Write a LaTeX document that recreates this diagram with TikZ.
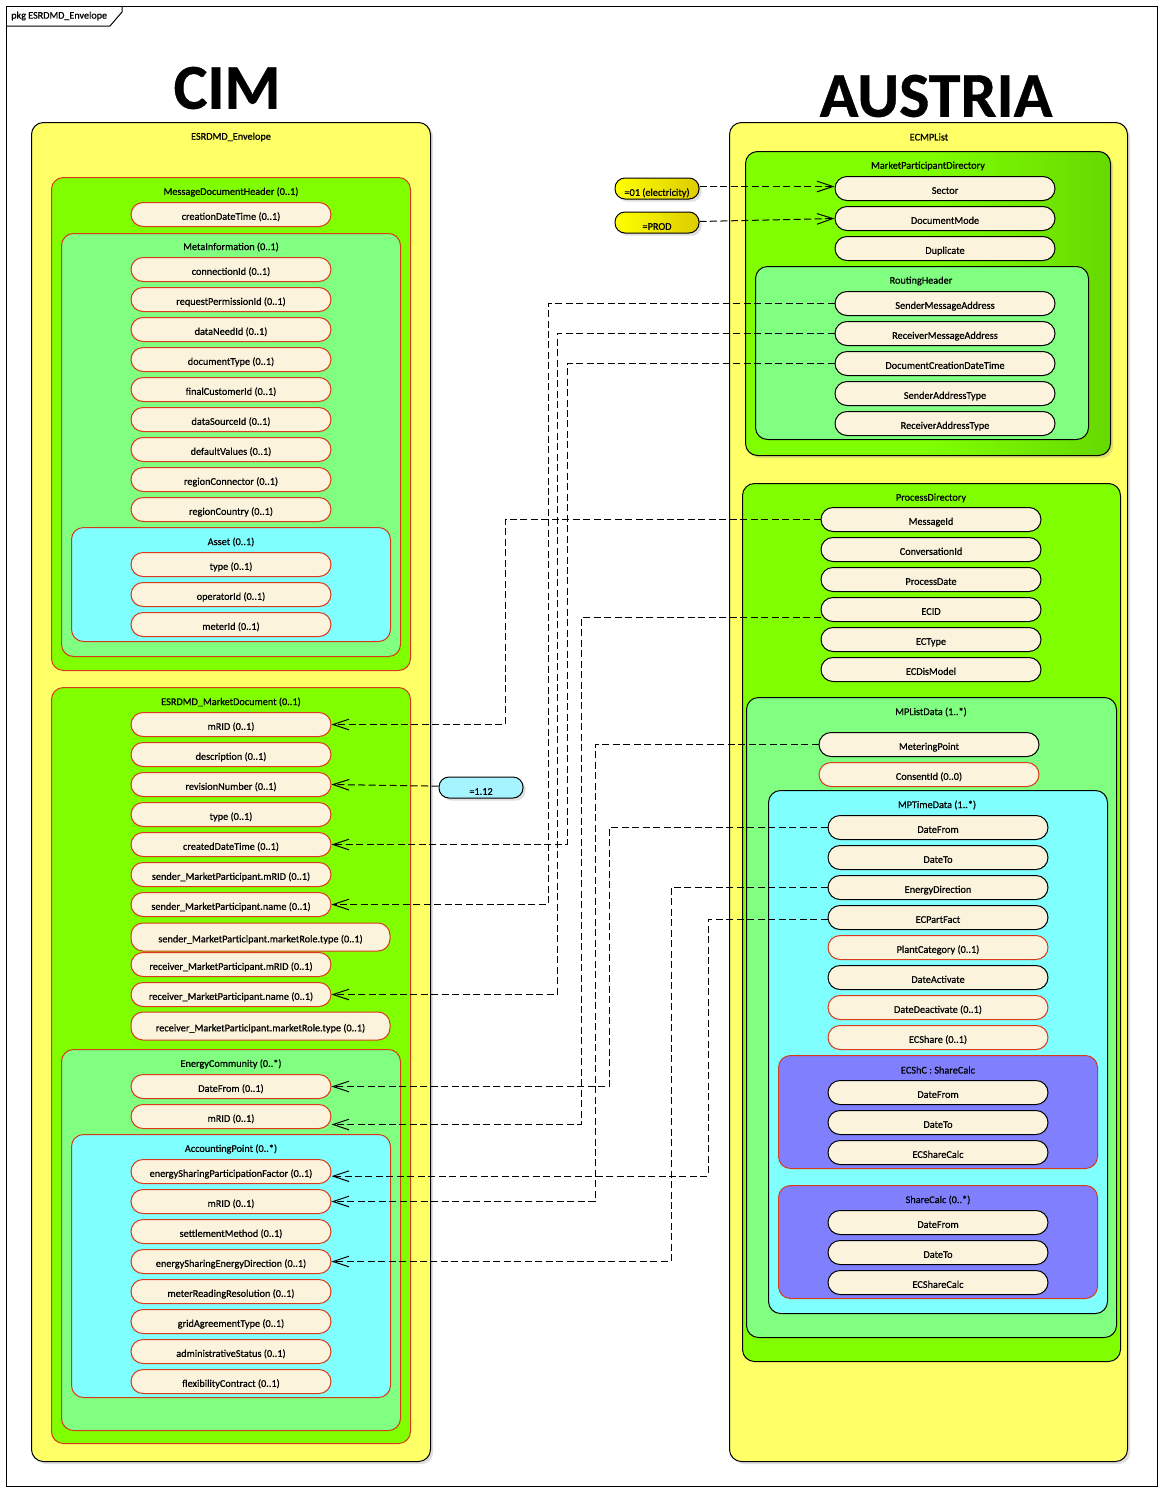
\documentclass[tikz,border=0pt]{standalone}
\usepackage{fontspec}
\setmainfont{Carlito}
\newfontfamily\labelfont[FakeBold=0.6]{Carlito}
\newfontfamily\headfont[FakeBold=0.6]{Carlito Bold}
\usetikzlibrary{arrows.meta, shadows}

\definecolor{envyellow}{HTML}{FFFF66}
\definecolor{lime}{HTML}{80FF00}
\definecolor{limedark}{HTML}{66D900}
\definecolor{mint}{HTML}{80FF80}
\definecolor{aqua}{HTML}{80FFFF}
\definecolor{violet}{HTML}{8080FF}
\definecolor{cream}{HTML}{FBF3DC}
\definecolor{edgered}{HTML}{D83A1A}
\definecolor{notesky}{HTML}{A6F4FF}
\definecolor{noteyellow}{HTML}{FFFF00}
\definecolor{noteolive}{HTML}{DDCC00}

\tikzset{
    sized/.style 2 args={anchor=north west, minimum width=(#1-1)*0.75pt, minimum height=(#2-1)*0.75pt},
    box/.style={draw=edgered, line width=0.75pt, rounded corners=9pt, inner sep=0pt},
    blackbox/.style={box, draw=black, drop shadow={opacity=0.25, shadow xshift=2pt, shadow yshift=-2pt}},
    title/.style={font=\fontsize{7.7}{8}\labelfont, inner sep=0pt, yshift=-0.75pt},
    attr/.style={draw=black, fill=cream, line width=0.75pt, rounded corners=9pt, minimum width=150pt,
        minimum height=18pt, inner sep=0pt, text height=9.5pt, text depth=1.5pt,
        font=\fontsize{7.7}{8}\labelfont},
    wide/.style={minimum width=194.25pt, minimum height=21pt},
    opt/.style={attr, draw=edgered},
    must/.style={attr, minimum width=165pt},
    note/.style={attr, minimum width=63pt, minimum height=15.75pt, rounded corners=7.5pt, text height=12.5pt,
        drop shadow={opacity=0.25, shadow xshift=2pt, shadow yshift=-2pt}},
    link/.style={dash pattern=on 5.25pt off 2.6pt, line width=0.75pt, -{Straight Barb[length=12pt,width=8pt]}},
    bus/.style={to path={-- (\tikztostart -| #1) -- (\tikztotarget -| #1) -- (\tikztotarget)}},
}

\begin{document}
\begin{tikzpicture}[x=0.75pt, y=-0.75pt]
    \useasboundingbox (0,0) rectangle (1163,1492);

    % frame
    \node[draw=black, line width=0.75pt, inner sep=0pt, sized={1152}{1481}](frame) at (6,6) {};
    \draw[line width=0.75pt] (6,26) -- (110,26) -- (122,12) -- (122,6);
    \node[anchor=west, inner sep=0pt, font=\fontsize{7.6}{9}\labelfont](pkg) at (11,16) {pkg ESRDMD\_Envelope};

    \node[inner sep=0pt, font=\fontsize{48}{50}\headfont](cim) at (227,88) {CIM};
    \node[inner sep=0pt, font=\fontsize{48}{50}\headfont](austria) at (936,96) {AUSTRIA};

    % CIM side
    \node[blackbox, fill=envyellow, sized={400}{1340}](envelope) at (31,122) {};
    \node[title](envelopet) at (231,136) {ESRDMD\_Envelope};

    \node[box, fill=lime, sized={360}{494}](header) at (51,177) {};
    \node[title](headert) at (231,191) {MessageDocumentHeader (0..1)};
    \node[opt](creation) at (231,214.5) {creationDateTime (0..1)};

    \node[box, fill=mint, sized={340}{424}](meta) at (61,233) {};
    \node[title](metat) at (231,246) {MetaInformation (0..1)};
    \node[opt](connection) at (231,269.5) {connectionId (0..1)};
    \node[opt](permission) at (231,299.5) {requestPermissionId (0..1)};
    \node[opt](dataneed)   at (231,329.5) {dataNeedId (0..1)};
    \node[opt](doctype)    at (231,359.5) {documentType (0..1)};
    \node[opt](customer)   at (231,389.5) {finalCustomerId (0..1)};
    \node[opt](datasource) at (231,419.5) {dataSourceId (0..1)};
    \node[opt](defaults)   at (231,449.5) {defaultValues (0..1)};
    \node[opt](connector)  at (231,479.5) {regionConnector (0..1)};
    \node[opt](country)    at (231,509.5) {regionCountry (0..1)};

    \node[box, fill=aqua, sized={320}{115}](asset) at (71,527) {};
    \node[title](assett) at (231,541) {Asset (0..1)};
    \node[opt](assettype) at (231,564.5) {type (0..1)};
    \node[opt](operator)  at (231,594.5) {operatorId (0..1)};
    \node[opt](meter)     at (231,624.5) {meterId (0..1)};

    \node[box, fill=lime, sized={360}{757}](market) at (51,687) {};
    \node[title](markett) at (231,701) {ESRDMD\_MarketDocument (0..1)};
    \node[opt](mrid)         at (231,724.5) {mRID (0..1)};
    \node[opt](description)  at (231,754.5) {description (0..1)};
    \node[opt](revision)     at (231,784.5) {revisionNumber (0..1)};
    \node[opt](markettype)   at (231,814.5) {type (0..1)};
    \node[opt](created)      at (231,844.5) {createdDateTime (0..1)};
    \node[opt](sendermrid)   at (231,874.5) {sender\_MarketParticipant.mRID (0..1)};
    \node[opt](sendername)   at (231,904.5) {sender\_MarketParticipant.name (0..1)};
    \node[opt, wide](senderrole) at (260.5,937) {sender\_MarketParticipant.marketRole.type (0..1)};
    \node[opt](receivermrid) at (231,964.5) {receiver\_MarketParticipant.mRID (0..1)};
    \node[opt](receivername) at (231,994.5) {receiver\_MarketParticipant.name (0..1)};
    \node[opt, wide](receiverrole) at (260.5,1026) {receiver\_MarketParticipant.marketRole.type (0..1)};

    \node[box, fill=mint, sized={340}{382}](community) at (61,1049) {};
    \node[title](communityt) at (231,1063) {EnergyCommunity (0..*)};
    \node[opt](comfrom) at (231,1086.5) {DateFrom (0..1)};
    \node[opt](commrid) at (231,1116.5) {mRID (0..1)};

    \node[box, fill=aqua, sized={320}{264}](accounting) at (71,1134) {};
    \node[title](accountingt) at (231,1148) {AccountingPoint (0..*)};
    \node[opt](factor)     at (231,1171.5) {energySharingParticipationFactor (0..1)};
    \node[opt](pointmrid)  at (231,1201.5) {mRID (0..1)};
    \node[opt](settlement) at (231,1231.5) {settlementMethod (0..1)};
    \node[opt](direction)  at (231,1261.5) {energySharingEnergyDirection (0..1)};
    \node[opt](resolution) at (231,1291.5) {meterReadingResolution (0..1)};
    \node[opt](grid)       at (231,1321.5) {gridAgreementType (0..1)};
    \node[opt](admin)      at (231,1351.5) {administrativeStatus (0..1)};
    \node[opt](flex)       at (231,1381.5) {flexibilityContract (0..1)};

    % Austria side
    \node[blackbox, fill=envyellow, sized={399}{1340}](list) at (729,122) {};
    \node[title](listt) at (929,136) {ECMPList};

    \node[blackbox, left color=lime, right color=limedark, middle color=lime, sized={366}{305}](directory) at (745,151) {};
    \node[title](directoryt) at (928,165) {MarketParticipantDirectory};
    \node[must](sector)    at (945,188.5) {Sector};
    \node[must](docmode)   at (945,218.5) {DocumentMode};
    \node[must](duplicate) at (945,248.5) {Duplicate};

    \node[box, draw=black, fill=mint, sized={334}{174}](routing) at (755,266) {};
    \node[title](routingt) at (921,280) {RoutingHeader};
    \node[must](sendermsg)   at (945,303.5) {SenderMessageAddress};
    \node[must](receivermsg) at (945,333.5) {ReceiverMessageAddress};
    \node[must](doccreation) at (945,363.5) {DocumentCreationDateTime};
    \node[must](sendertype)  at (945,393.5) {SenderAddressType};
    \node[must](receivertype) at (945,423.5) {ReceiverAddressType};

    \node[box, draw=black, fill=lime, sized={379}{879}](process) at (742,483) {};
    \node[title](processt) at (931,497) {ProcessDirectory};
    \node[must](messageid) at (931,519.5) {MessageId};
    \node[must](conversation) at (931,549.5) {ConversationId};
    \node[must](processdate)  at (931,579.5) {ProcessDate};
    \node[must](ecid)      at (931,609.5) {ECID};
    \node[must](ectype)    at (931,639.5) {ECType};
    \node[must](ecmodel)   at (931,669.5) {ECDisModel};

    \node[box, draw=black, fill=mint, sized={371}{641}](listdata) at (746,697) {};
    \node[title](listdatat) at (931,711) {MPListData (1..*)};
    \node[must](metering) at (929,744.5) {MeteringPoint};
    \node[must, draw=edgered](consent) at (929,774.5) {ConsentId (0..0)};

    \node[box, draw=black, fill=aqua, sized={340}{524}](timedata) at (768,790) {};
    \node[title](timedatat) at (937,804) {MPTimeData (1..*)};
    \node[must](datefrom) at (938,827.5) {DateFrom};
    \node[must](dateto)   at (938,857.5) {DateTo};
    \node[must](energydir) at (938,887.5) {EnergyDirection};
    \node[must](partfact) at (938,917.5) {ECPartFact};
    \node[must, draw=edgered](plant) at (938,947.5) {PlantCategory (0..1)};
    \node[must](activate) at (938,977.5) {DateActivate};
    \node[must, draw=edgered](deactivate) at (938,1007.5) {DateDeactivate (0..1)};
    \node[must, draw=edgered](ecshare) at (938,1037.5) {ECShare (0..1)};

    \node[box, fill=violet, sized={320}{114}](shc) at (778,1055) {};
    \node[title](shct) at (938,1069) {ECShC : ShareCalc};
    \node[must](shcfrom) at (938,1092.5) {DateFrom};
    \node[must](shcto)   at (938,1122.5) {DateTo};
    \node[must](shccalc) at (938,1152.5) {ECShareCalc};

    \node[box, fill=violet, sized={320}{114}](share) at (778,1185) {};
    \node[title](sharet) at (938,1199) {ShareCalc (0..*)};
    \node[must](sharefrom) at (938,1222.5) {DateFrom};
    \node[must](shareto)   at (938,1252.5) {DateTo};
    \node[must](sharecalc) at (938,1282.5) {ECShareCalc};

    % notes
    \node[note, left color=noteyellow, middle color=noteyellow, right color=noteolive](electricity) at (657,188.5) {=01 (electricity)};
    \node[note, left color=noteyellow, middle color=noteyellow, right color=noteolive](prod) at (657,222.5) {=PROD};
    \node[note, fill=notesky](version) at (481,787.5) {=1.12};

    % connector columns
    \coordinate (c505) at (505,0);
    \coordinate (c548) at (548,0);
    \coordinate (c557) at (557,0);
    \coordinate (c567) at (567,0);
    \coordinate (c581) at (581,0);
    \coordinate (c595) at (595,0);
    \coordinate (c609) at (609,0);
    \coordinate (c671) at (671,0);
    \coordinate (c708) at (708,0);

    \path
        ([yshift=1.5pt]electricity.east) edge [link] ([yshift=1.5pt]sector.west)
        ([yshift=0.75pt]prod.east) edge [link] (docmode.west)
        ([yshift=1pt]version.west) edge [link] (revision.east)
        (messageid.west) edge [link, bus=c505] (mrid.east)
        (sendermsg.west) edge [link, bus=c548] (sendername.east)
        (receivermsg.west) edge [link, bus=c557] (receivername.east)
        (doccreation.west) edge [link, bus=c567] (created.east)
        ([yshift=-6pt]ecid.west) edge [link, bus=c581] ([yshift=-6pt]commrid.east)
        (metering.west) edge [link, bus=c595] (pointmrid.east)
        (datefrom.west) edge [link, bus=c609] (comfrom.east)
        (energydir.west) edge [link, bus=c671] (direction.east)
        ([yshift=-1.5pt]partfact.west) edge [link, bus=c708] ([yshift=-3.5pt]factor.east)
        ;
\end{tikzpicture}
\end{document}
